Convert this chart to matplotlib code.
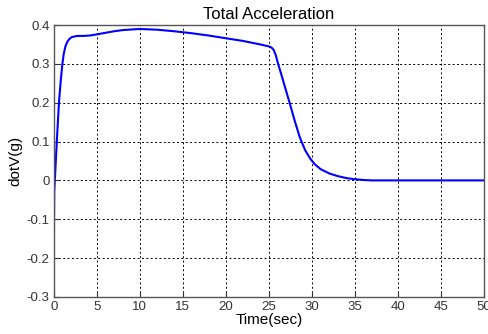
import numpy as np
import matplotlib
matplotlib.use("Agg")
import matplotlib.pyplot as plt

# values
t = [0.0, 0.02, 0.05, 0.12, 0.35, 0.6, 0.8, 1.0, 1.15, 1.35, 1.55, 1.8, 2.1, 2.7, 3.5, 4.2,
     5.0, 6.0, 7.0, 8.0, 10.0, 12.0, 14.0, 16.0, 18.0, 20.0, 22.0, 24.0, 25.0, 25.3, 25.55,
     25.8, 26.0, 26.5, 27.0, 27.4, 28.0, 28.6, 29.2, 29.8, 30.3, 31.0, 32.0, 33.0, 34.0,
     35.0, 36.0, 37.0, 40.0, 50.0]
acc = [-0.2, -0.12, -0.03, 0.0, 0.1, 0.2, 0.255, 0.3, 0.325, 0.345, 0.356, 0.364, 0.369,
       0.372, 0.372, 0.373, 0.376, 0.38, 0.384, 0.387, 0.39, 0.388, 0.384, 0.379, 0.373,
       0.366, 0.359, 0.35, 0.345, 0.342, 0.336, 0.322, 0.305, 0.268, 0.23, 0.2, 0.153, 0.11,
       0.078, 0.056, 0.042, 0.029, 0.018, 0.011, 0.006, 0.003, 0.001, 0.0, 0.0, 0.0]

xticks = list(range(0, 51, 5))
yticks = [-0.3, -0.2, -0.1, 0, 0.1, 0.2, 0.3, 0.4]
ylabels = ["-0.3", "-0.2", "-0.1", "0", "0.1", "0.2", "0.3", "0.4"]

plt.rcParams["font.family"] = ["Liberation Sans", "DejaVu Sans"]

fig = plt.figure(figsize=(4.89, 3.34), dpi=100)
ax = fig.add_axes([0.110, 0.111, 0.880, 0.814])
ax.plot(t, acc, color="#0000ff", linewidth=1.5)
ax.set_xlim(0, 50)
ax.set_ylim(-0.3, 0.4)
ax.set_xticks(xticks)
ax.set_yticks(yticks)
ax.set_yticklabels(ylabels)
ax.grid(True, color="black", linestyle=(0, (2, 2.5)), linewidth=0.7)
ax.tick_params(direction="in", length=4, labelsize=9.5, colors="#333333", pad=3)
for s in ax.spines.values():
    s.set_color("#555555")
    s.set_linewidth(1.0)
ax.set_title("Total Acceleration", fontsize=12, pad=4)
ax.set_xlabel("Time(sec)", fontsize=11, labelpad=0)
ax.set_ylabel("dotV(g)", fontsize=11, labelpad=3)

fig.savefig("out.png", dpi=100)
